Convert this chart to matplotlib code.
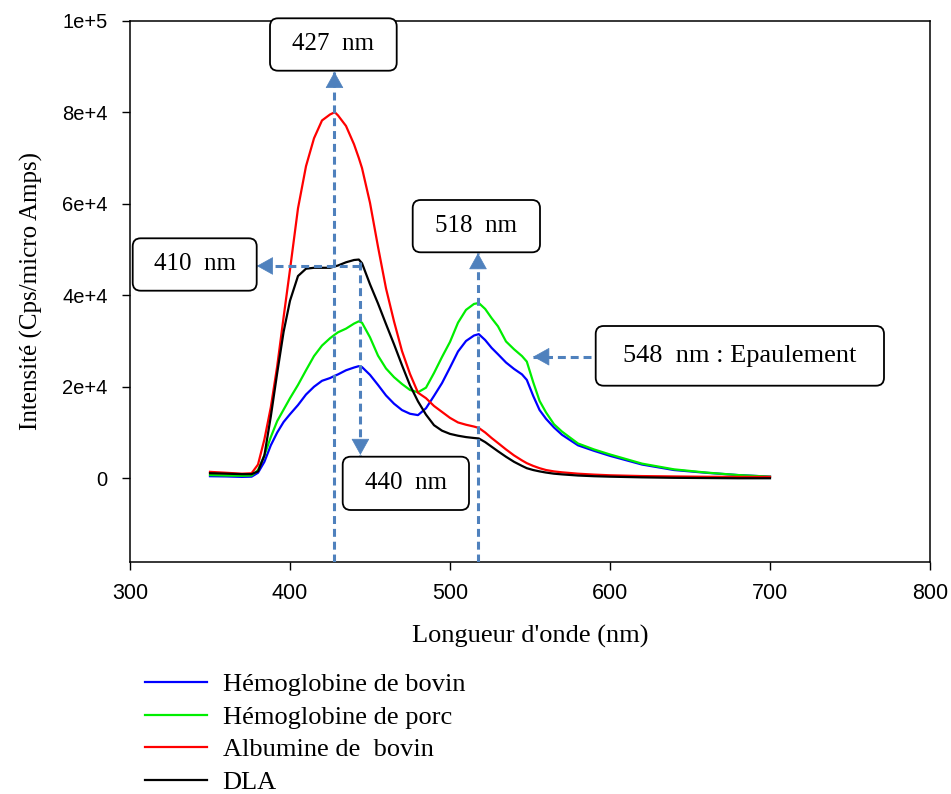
import numpy as np
import matplotlib.pyplot as plt
from matplotlib.patches import FancyBboxPatch
from matplotlib.ticker import FuncFormatter

# longueur d'onde (nm) - grille commune
wl = [350, 360, 370, 376, 380, 384, 388, 392, 396, 400, 405, 410, 415, 420, 425, 428,
      430, 435, 440, 443, 445, 450, 455, 460, 465, 470, 475, 480, 485, 490, 495, 500,
      505, 510, 515, 518, 522, 526, 530, 535, 540, 545, 548, 552, 556, 560, 565, 570,
      580, 590, 600, 620, 640, 660, 680, 700]

hb_bovin = [450, 400, 300, 350, 1200, 3600, 7200, 10000, 12300, 14000, 16000, 18300, 20000, 21300, 21900, 22400,
            22700, 23600, 24200, 24500, 24300, 22600, 20400, 18100, 16300, 14900, 14100, 13800, 15300, 18000, 20800, 24200,
            27700, 30000, 31200, 31500, 30200, 28500, 27100, 25300, 23900, 22700, 21500, 18000, 14900, 13000, 11100, 9500,
            7200, 6000, 4900, 3000, 1800, 1200, 700, 350]

hb_porc = [700, 600, 550, 600, 1800, 5000, 9000, 12500, 15000, 17500, 20400, 23600, 26700, 29000, 30600, 31400,
           31900, 32700, 33800, 34300, 34000, 30800, 26800, 24000, 22100, 20600, 19300, 18800, 19800, 23000, 26500, 29800,
           34000, 36800, 38100, 38300, 37000, 35000, 33200, 29900, 28200, 26700, 25500, 21000, 16900, 14400, 11800, 10200,
           7600, 6300, 5200, 3200, 1950, 1250, 700, 350]

albumine = [1400, 1200, 1000, 1100, 3000, 8500, 15500, 24500, 35200, 45600, 59000, 68200, 74300, 78200, 79500, 80000,
            79300, 77000, 73000, 70000, 67800, 60200, 50600, 41500, 34300, 27800, 22800, 18700, 17500, 15800, 14500, 13200,
            12200, 11700, 11300, 11000, 10000, 8800, 7700, 6300, 5000, 3900, 3300, 2700, 2200, 1800, 1500, 1300,
            1000, 800, 650, 480, 400, 330, 300, 300]

dla = [1100, 1000, 900, 900, 1500, 5000, 13500, 23000, 32000, 38800, 44200, 45800, 46000, 46000, 46000, 46300,
       46500, 47200, 47700, 47800, 47000, 42400, 38200, 33700, 29300, 24700, 20300, 16800, 13900, 11600, 10400, 9700,
       9300, 9000, 8800, 8700, 7900, 6900, 5900, 4700, 3600, 2700, 2200, 1800, 1500, 1250, 1000, 850,
       600, 450, 350, 200, 100, 50, 0, 0]

labels = ['Hémoglobine de bovin', 'Hémoglobine de porc', 'Albumine de  bovin', 'DLA']
colors = ['#0000ff', '#00ee00', '#ff0000', '#000000']

serif = 'Liberation Serif'
sans = 'Liberation Sans'

fig = plt.figure(figsize=(9.51, 7.94), dpi=100)
ax = fig.add_axes([130/951, 1-562/794, 800/951, (562-20.7)/794])

for y, c, lab in zip([hb_bovin, hb_porc, albumine, dla], colors, labels):
    ax.plot(wl, y, color=c, lw=1.6, label=lab)

ax.set_xlim(300, 800)
ax.set_ylim(-18300, 100000)
ax.set_xticks(np.arange(300, 801, 100))
ax.set_yticks(np.arange(0, 100001, 20000))

def fmt(v, pos):
    if v == 0:
        return '0'
    e = int(np.floor(np.log10(abs(v))))
    return '%de+%d' % (round(v / 10**e), e)

ax.yaxis.set_major_formatter(FuncFormatter(fmt))
ax.tick_params(axis='both', direction='out', length=6, width=1, right=False, top=False)
ax.tick_params(axis='x', labelsize=15.5, pad=9)
ax.tick_params(axis='y', labelsize=14.5, pad=10)
for lbl in ax.get_xticklabels() + ax.get_yticklabels():
    lbl.set_family(sans)
for s in ax.spines.values():
    s.set_linewidth(1.1)

ax.set_xlabel("Longueur d'onde (nm)", family=serif, fontsize=19, labelpad=15)
ax.set_ylabel('Intensité (Cps/micro Amps)', family=serif, fontsize=18, labelpad=14)

########### fleches pointillees ##################################
arrow_c = '#4f81bd'
ymin = ax.get_ylim()[0]
# (depart, pointe) en coordonnees des donnees
arrows = [((427.8, ymin), (427.8, 88800)),
          ((517.5, ymin), (517.5, 49200)),
          ((444, 47300), (444, 5100)),
          ((444, 46400), (379.3, 46400)),
          ((587.9, 26560), (552, 26560))]
for start, tip in arrows:
    ax.plot([start[0], tip[0]], [start[1], tip[1]], color=arrow_c, lw=2.2,
            linestyle=(0, (2.6, 1.6)), zorder=4)
    # tete pleine: petit decalage (points) dans le sens oppose a la pointe
    dx = np.sign(start[0] - tip[0]) * 11
    dy = np.sign(start[1] - tip[1]) * 11
    ax.annotate('', xy=tip, xytext=(dx, dy), textcoords='offset points',
                arrowprops=dict(arrowstyle='-|>,head_length=0.9,head_width=0.5',
                                color=arrow_c, lw=0.5, mutation_scale=12,
                                shrinkA=0, shrinkB=0), zorder=4)

########### boites (pixels depuis le haut gauche) ##################
boxes = [('427  nm', 270, 18.3, 396.7, 70.7, 18),
         ('410  nm', 132.7, 238.3, 256.7, 290.7, 18),
         ('518  nm', 412.7, 200, 540, 252.3, 18),
         ('440  nm', 342.7, 456.7, 469, 510, 18),
         ('548  nm : Epaulement', 595.7, 326, 884, 385.7, 19)]
H = 7.94
for txt, x0, y0, x1, y1, fs in boxes:
    p = FancyBboxPatch((x0/100, H - y1/100), (x1-x0)/100, (y1-y0)/100,
                       boxstyle='round,pad=0,rounding_size=0.08',
                       transform=fig.dpi_scale_trans, fc='white', ec='black', lw=1.3, zorder=5)
    fig.add_artist(p)
    fig.text((x0+x1)/200, H - (y0+y1)/200, txt, transform=fig.dpi_scale_trans,
             ha='center', va='center', family=serif, fontsize=fs, zorder=6)

########### legende ##################################
fig.legend(loc='upper left', bbox_to_anchor=(145/951, 1-673/794), frameon=False,
           prop={'family': serif, 'size': 19}, handlelength=2.34, handletextpad=0.6,
           labelspacing=0.34, borderpad=0, borderaxespad=0)

plt.savefig('out.png', dpi=100)
